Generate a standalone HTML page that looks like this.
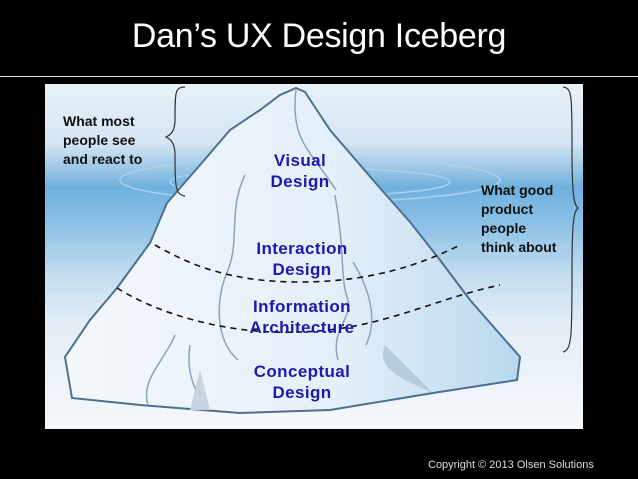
<!DOCTYPE html>
<html><head><style>
body{margin:0;width:638px;height:479px;background:#000;position:relative;overflow:hidden;font-family:"Liberation Sans",sans-serif}
.t{position:absolute;left:0;width:638px;top:17px;text-align:center;color:#fff;font-size:34px;letter-spacing:-0.3px}
.line{position:absolute;left:0;top:76px;width:638px;height:1px;background:#ddd}
.cp{position:absolute;left:428px;top:459px;color:#ddd;font-size:11px}
</style></head><body>
<div class="t">Dan’s UX Design Iceberg</div>
<div class="line"></div>
<svg width="638" height="479" style="position:absolute;left:0;top:0">
<defs>
<linearGradient id="bg" x1="0" y1="0" x2="0" y2="1">
<stop offset="0" stop-color="#e8f1f8"/><stop offset="0.17" stop-color="#d6e6f3"/>
<stop offset="0.3" stop-color="#6fb0dd"/><stop offset="0.42" stop-color="#8fc3e6"/>
<stop offset="0.55" stop-color="#c2ddf0"/><stop offset="0.7" stop-color="#e4eef6"/><stop offset="1" stop-color="#f4f8fb"/>
</linearGradient>
<linearGradient id="ice" x1="0" y1="0" x2="1" y2="0">
<stop offset="0" stop-color="#f4f8fc"/><stop offset="0.6" stop-color="#e4eff8"/><stop offset="1" stop-color="#b9d8ee"/>
</linearGradient>
</defs>
<rect x="45" y="84" width="538" height="345" fill="url(#bg)"/>
<ellipse cx="310" cy="180" rx="190" ry="22" fill="none" stroke="#a9d0ec" stroke-width="1.5"/>
<ellipse cx="310" cy="182" rx="140" ry="14" fill="none" stroke="#a9d0ec" stroke-width="1.5"/>
<path d="M296,88 L305,92 L330,130 L373,180 L410,222 L440,260 L470,300 L520,357 L517,380 L433,393 L330,410 L240,413 L140,405 L72,398 L65,357 L90,320 L117,288 L150,243 L167,203 L200,165 L230,130 L260,110 L280,95 Z" fill="url(#ice)" stroke="#4e6f90" stroke-width="2"/>
<path d="M296,90 C290,140 310,150 336,190" fill="none" stroke="#8aa3bc" stroke-width="1.5"/>
<path d="M245,175 C228,210 240,240 228,270 C215,300 215,340 238,360" fill="none" stroke="#8aa3bc" stroke-width="1.5"/>
<path d="M335,195 C345,250 340,280 348,300 C352,320 330,330 338,360" fill="none" stroke="#8aa3bc" stroke-width="1.5"/>
<path d="M353,262 C370,290 378,320 366,345" fill="none" stroke="#8aa3bc" stroke-width="1.5"/>
<path d="M175,335 C165,360 140,380 148,405" fill="none" stroke="#8aa3bc" stroke-width="1.5"/>
<path d="M190,345 C185,380 200,395 205,410" fill="none" stroke="#8aa3bc" stroke-width="1.5"/>
<path d="M385,345 C375,370 405,380 433,393 Z" fill="#b8cbdc"/>
<path d="M200,370 L190,410 L210,410 Z" fill="#c6d4e2"/>
<path d="M155,245 C190,265 230,282 300,282 C370,282 420,265 460,245" fill="none" stroke="#111" stroke-width="1.6" stroke-dasharray="6,5"/>
<path d="M117,288 C160,315 230,335 300,332 C380,330 430,300 500,285" fill="none" stroke="#111" stroke-width="1.6" stroke-dasharray="6,5"/>
<path d="M185,87 C175,87 175,92 175,120 C175,132 170,135 166,137 C170,139 175,142 175,155 C175,185 175,195 185,196" fill="none" stroke="#333" stroke-width="1.2"/>
<path d="M563,87 C572,88 572,95 572,150 C572,195 574,205 578,208 C574,211 572,220 572,270 C572,335 572,350 563,352" fill="none" stroke="#333" stroke-width="1.2"/>
</svg>
<div style="position:absolute;left:63px;top:112px;font-size:14px;font-weight:bold;line-height:19px;color:#111">What most<br>people see<br>and react to</div>
<div style="position:absolute;left:481px;top:181px;font-size:14px;font-weight:bold;line-height:19px;color:#111">What good<br>product<br>people<br>think about</div>
<div style="position:absolute;left:200px;width:200px;text-align:center;color:#1a1ab0;font-weight:bold;font-size:17px;line-height:21px;letter-spacing:0.4px">
<div style="position:absolute;top:150px;width:200px">Visual<br>Design</div>
<div style="position:absolute;top:238px;width:204px">Interaction<br>Design</div>
<div style="position:absolute;top:296px;width:204px">Information<br>Architecture</div>
<div style="position:absolute;top:361px;width:204px">Conceptual<br>Design</div>
</div>
<div class="cp">Copyright © 2013 Olsen Solutions</div>
</body></html>
